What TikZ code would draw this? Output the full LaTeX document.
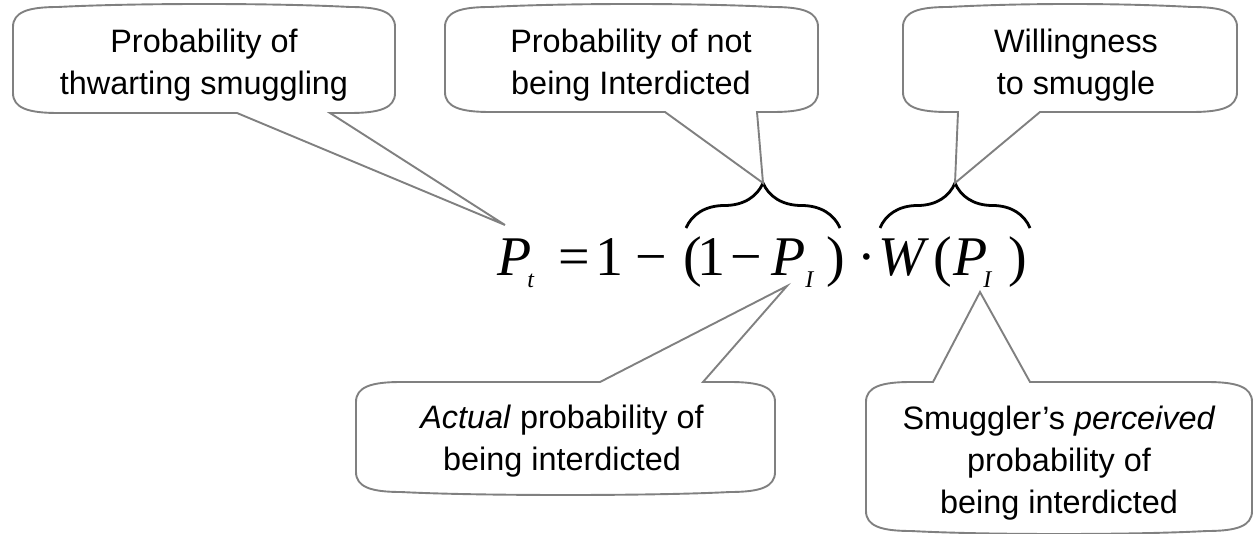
\documentclass[tikz,border=0pt]{standalone}
\usepackage{fontspec}
\setmainfont{Liberation Sans}
\newfontfamily\eqfont{Liberation Serif}
\usetikzlibrary{
  decorations.pathreplacing % 大括号装饰
}
\definecolor{calloutgray}{RGB}{128,128,128}

\tikzset{
  callout/.style={draw=calloutgray, line width=0.95pt, fill=white},
  note/.style={align=center, inner sep=0pt, font=\fontsize{16.2}{21}\selectfont},
  eqsym/.style={anchor=base west, inner sep=0pt, font=\eqfont\fontsize{28}{30}\selectfont},
  eqvar/.style={eqsym, font=\eqfont\itshape\fontsize{28}{30}\selectfont},
  eqsub/.style={anchor=base west, inner sep=0pt, font=\eqfont\itshape\fontsize{12}{14}\selectfont},
  bracket/.style={decorate, decoration={brace, amplitude=22.5pt}, line width=1.4pt}
}

% 标注框：左 上 右 下 尾左 尖 尾右（尾巴在下边）
\newcommand{\calloutbelow}[7]{%
  \draw[callout] (#1,#2+20) -- (#1,#4-20)
    .. controls (#1,#4-5) and (#1+15,#4) .. (#1+45,#4)
    -- (#5,#4) -- (#6) -- (#7,#4) -- (#3-45,#4)
    .. controls (#3-15,#4) and (#3,#4-5) .. (#3,#4-20)
    -- (#3,#2+20)
    .. controls (#3,#2+5) and (#3-15,#2) .. (#3-45,#2)
    .. controls (#3-120,#2-4) and (#1+120,#2-4) .. (#1+45,#2)
    .. controls (#1+15,#2) and (#1,#2+5) .. (#1,#2+20) -- cycle;}
% 标注框：尾巴在上边
\newcommand{\calloutabove}[7]{%
  \draw[callout] (#1,#2+20) -- (#1,#4-20)
    .. controls (#1,#4-5) and (#1+15,#4) .. (#1+45,#4)
    .. controls (#1+120,#4+4) and (#3-120,#4+4) .. (#3-45,#4)
    .. controls (#3-15,#4) and (#3,#4-5) .. (#3,#4-20)
    -- (#3,#2+20)
    .. controls (#3,#2+5) and (#3-15,#2) .. (#3-45,#2)
    -- (#7,#2) -- (#6) -- (#5,#2) -- (#1+45,#2)
    .. controls (#1+15,#2) and (#1,#2+5) .. (#1,#2+20) -- cycle;}

\begin{document}
\begin{tikzpicture}[x=0.5pt, y=-0.5pt]
  \useasboundingbox (0,0) rectangle (1257,534);

  % 公式 P_t = 1 - (1 - P_I) W(P_I)
  \node[eqvar] (Pt) at (497,275) {P};
  \node[eqsub] (Ptsub) at (527,287) {t};
  \node[eqsym] (eqsign) at (558,275) {=};
  \node[eqsym] (oneA) at (595,275) {1};
  \node[eqsym] (minusA) at (635,275) {−};
  \node[eqsym] (lparA) at (683,275) {(};
  \node[eqsym] (oneB) at (697,275) {1};
  \node[eqsym] (minusB) at (730,275) {−};
  \node[eqvar] (PIa) at (771,275) {P};
  \node[eqsub] (PIasub) at (805,287) {I};
  \node[eqsym] (rparA) at (826,275) {)};
  \node[eqsym] (dot) at (857,275) {·};
  \node[eqvar] (W) at (878,275) {W};
  \node[eqsym] (lparB) at (933,275) {(};
  \node[eqvar] (PIb) at (953,275) {P};
  \node[eqsub] (PIbsub) at (983,287) {I};
  \node[eqsym] (rparB) at (1008,275) {)};

  % 大括号
  \coordinate (brAl) at (686,228);
  \coordinate (brAr) at (840,228);
  \coordinate (brBl) at (880,228);
  \coordinate (brBr) at (1030,228);
  \draw[bracket] (brAl) -- (brAr);
  \draw[bracket] (brBl) -- (brBr);

  % 尾巴尖
  \coordinate (tipA) at (505,225);
  \coordinate (tipB) at (763,183);
  \coordinate (tipC) at (955,183);
  \coordinate (tipD) at (787,286);
  \coordinate (tipE) at (980,292);

  % 标注框
  \calloutbelow{13}{7}{395}{113}{237}{tipA}{330}
  \calloutbelow{445}{7}{818}{112}{665}{tipB}{757}
  \calloutbelow{903}{7}{1237}{112}{958}{tipC}{1040}
  \calloutabove{356}{382}{775}{492}{600}{tipD}{703}
  \calloutabove{866}{382}{1252}{531}{933}{tipE}{1030}

  % 文字
  \node[note] (thwart) at (204,65) {Probability of\\thwarting smuggling};
  \node[note] (notint) at (631,65) {Probability of not\\being Interdicted};
  \node[note] (willing) at (1076,65) {Willingness\\to smuggle};
  \node[note] (actual) at (562,441) {\textit{Actual} probability of\\being interdicted};
  \node[note] (perceived) at (1059,463) {Smuggler’s \textit{perceived}\\probability of\\being interdicted};
\end{tikzpicture}
\end{document}
